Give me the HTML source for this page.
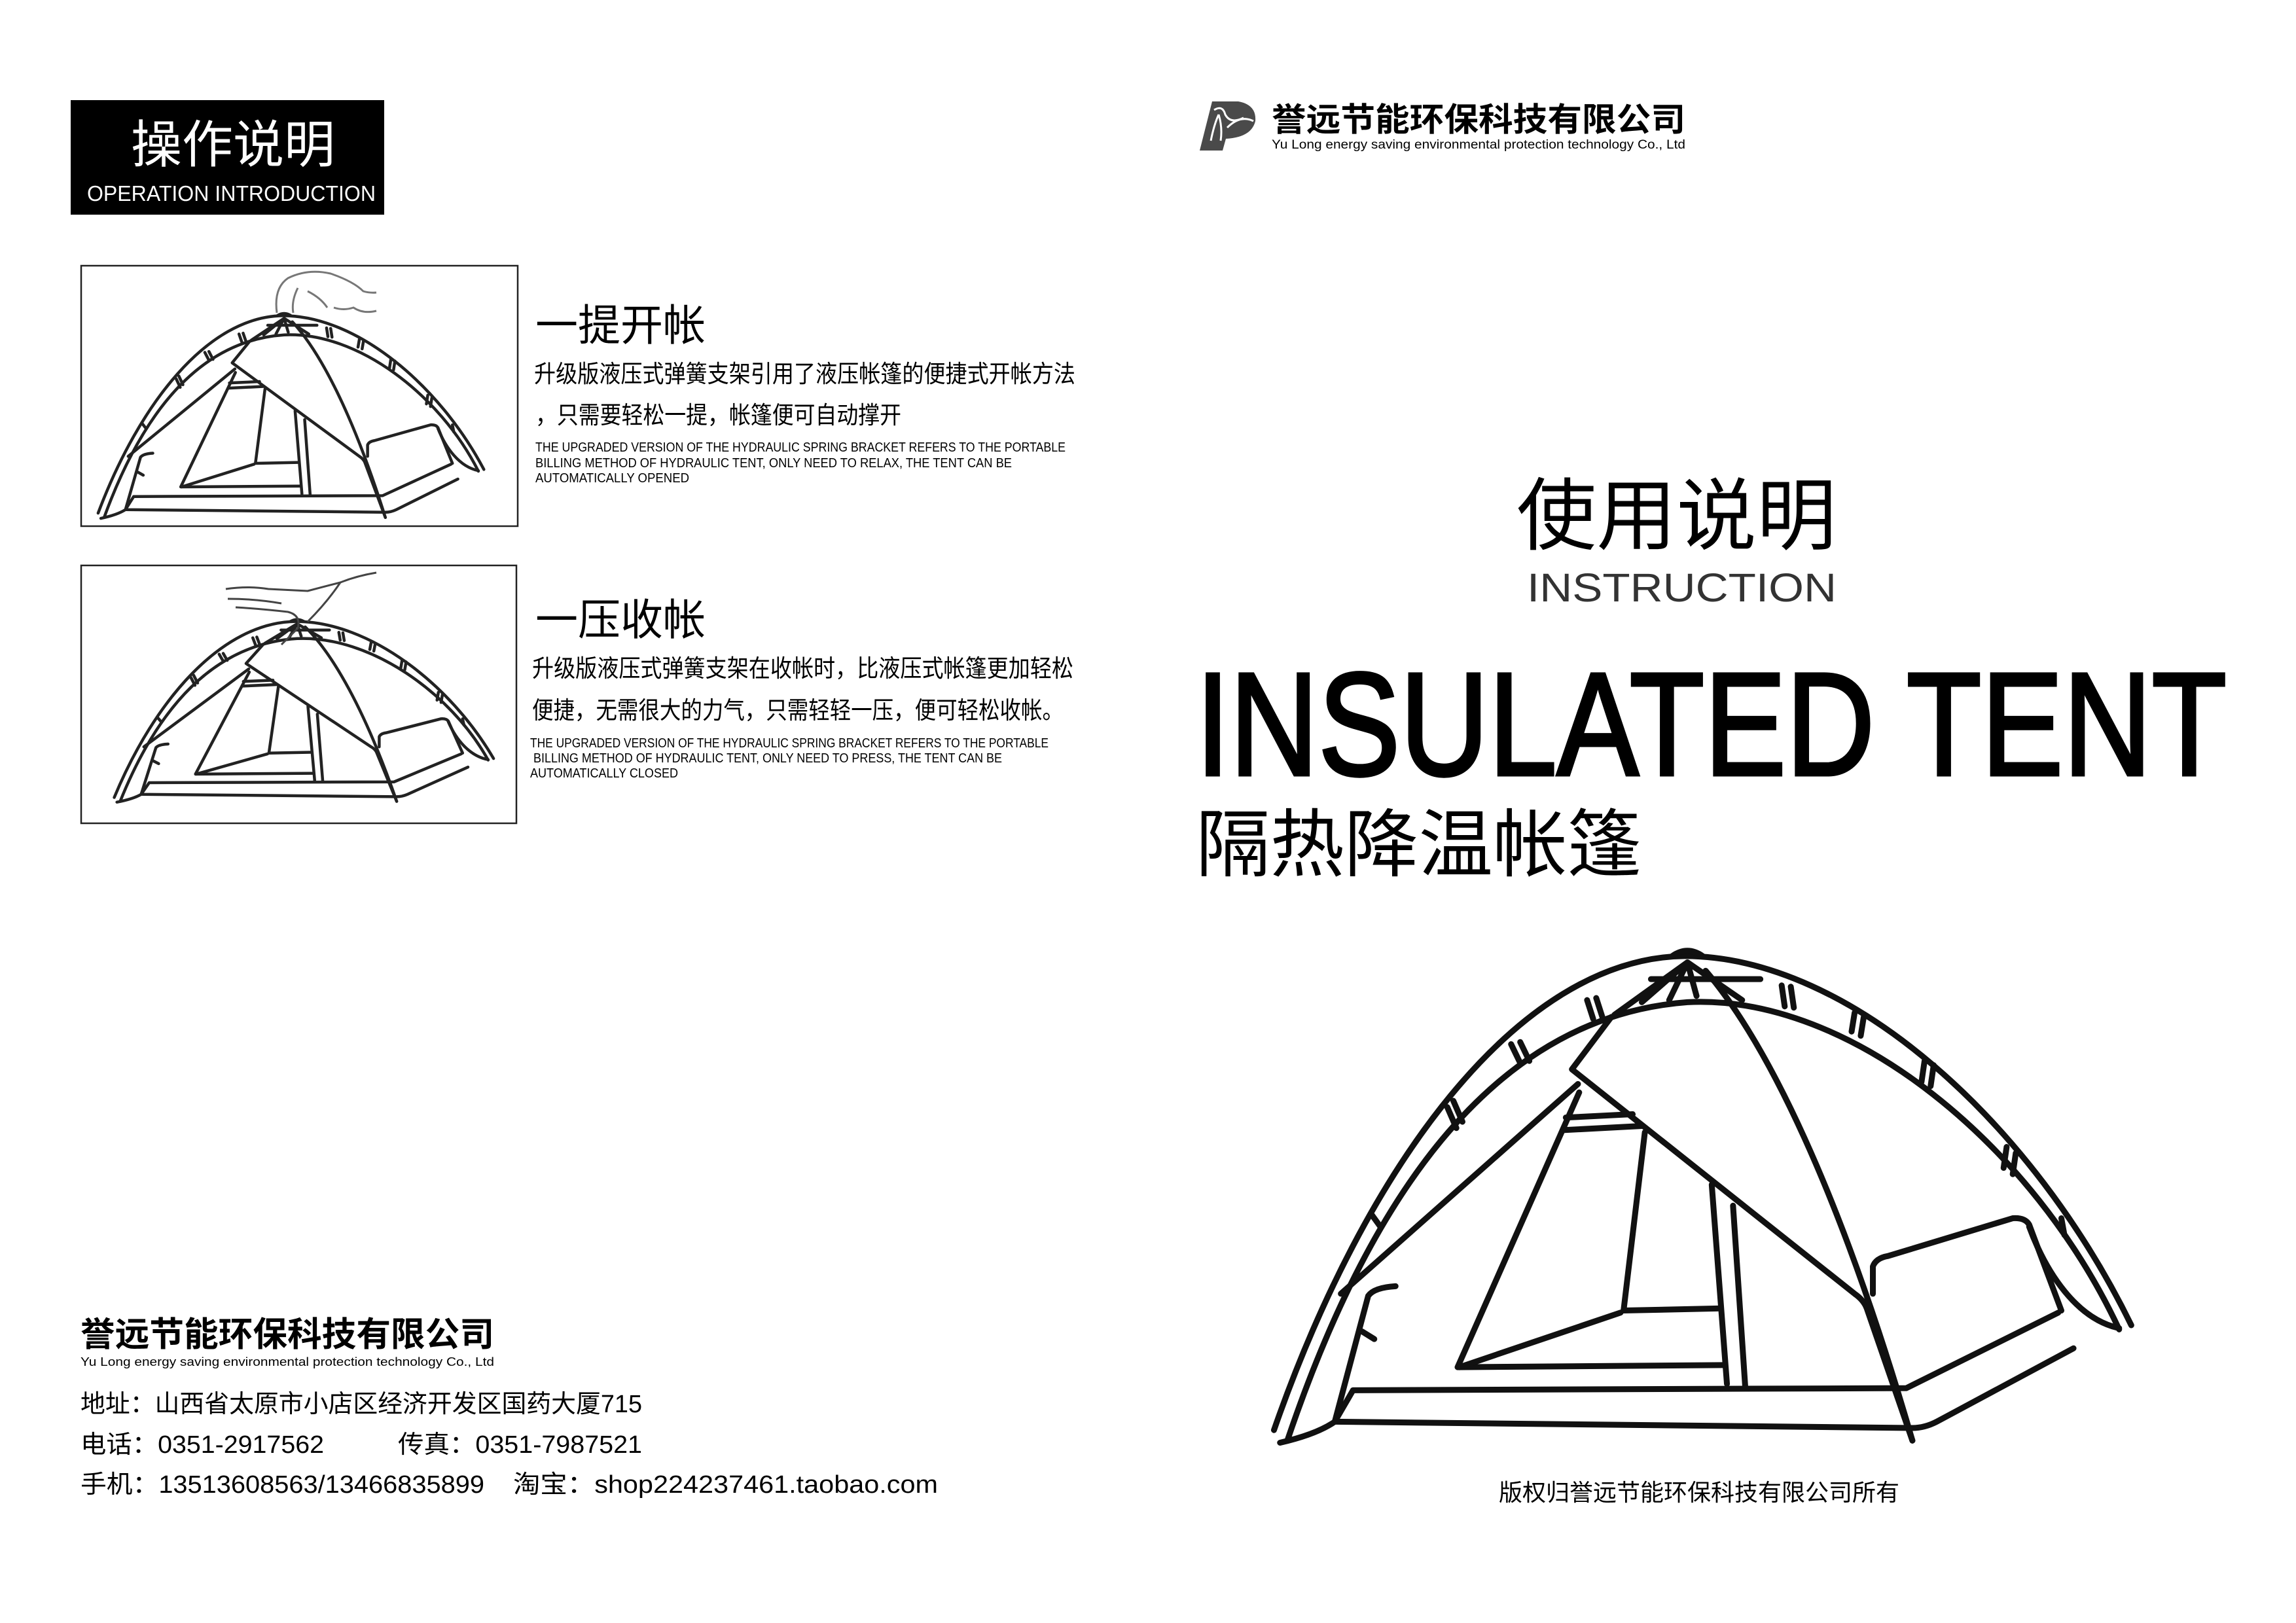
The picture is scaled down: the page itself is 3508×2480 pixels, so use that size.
<!DOCTYPE html>
<html><head><meta charset="utf-8"><style>
html,body{margin:0;padding:0;background:#fff;}
svg{display:block;}
.cn{font-family:"Liberation Sans","Noto Sans CJK SC",sans-serif;}
.t path,.t line,.t polyline{vector-effect:non-scaling-stroke;}
</style></head><body>
<svg width="3508" height="2480" viewBox="0 0 3508 2480" xmlns="http://www.w3.org/2000/svg">
<defs>
<g id="tent" class="t" fill="none" stroke-linecap="round" stroke-linejoin="round">
 <path d="M50,1225 C200,600 450,100 725,95 C1000,95 1300,500 1460,975"/>
 <path d="M72,1250 C200,700 400,240 730,205 C1000,185 1300,550 1440,985"/>
 <path d="M705,95 Q730,70 755,95"/>
 <path d="M730,110 L610,235 M730,110 L655,205 M730,110 L700,200 M730,110 L745,190 M730,110 L820,200 M670,150 L850,150"/>
 <path d="M345,440 L360,490 M335,455 L350,505 M440,305 L455,350 M455,300 L470,345 M565,200 L575,245 M580,195 L590,240 M885,165 L890,215 M900,168 L905,218 M1005,230 L1000,275 M1020,240 L1015,285 M1120,345 L1115,395 M1135,355 L1130,405 M1255,550 L1250,600 M1270,565 L1265,615 M1345,720 L1350,760 M210,710 L225,740"/>
 <path d="M605,240 L540,365 L1005,900 Q1020,915 1025,935 L1100,1250"/>
 <path d="M760,130 C860,300 980,650 1100,1250"/>
 <path d="M550,400 L160,900"/>
 <path d="M552,420 L352,1075 L790,1070"/>
 <path d="M530,480 L640,472 M525,510 L655,500 M660,515 L625,940 L780,935 M620,945 L355,1075"/>
 <path d="M770,640 L795,1115 M805,690 L825,1120"/>
 <path d="M180,1130 L1090,1125 L1340,945 M180,1130 L150,1205 L1100,1220 Q1120,1220 1140,1205 L1365,1030"/>
 <path d="M1035,900 L1035,835 Q1040,815 1060,810 L1265,720 Q1285,718 1292,735 L1345,940"/>
 <path d="M1292,740 C1320,850 1370,960 1440,982"/>
 <path d="M60,1255 Q120,1235 150,1205 L205,905 Q215,885 250,882 M195,990 L215,1008"/>
</g>
</defs>

<rect x="108" y="153" width="479" height="175" fill="#000"/>
<text class="cn" x="200" y="248" font-size="78" fill="#fff" textLength="312" lengthAdjust="spacingAndGlyphs">操作说明</text>
<text x="133" y="307" font-family="Liberation Sans, sans-serif" font-size="33" fill="#fff" textLength="441" lengthAdjust="spacingAndGlyphs">OPERATION INTRODUCTION</text>

<rect x="124" y="406" width="667" height="398" fill="none" stroke="#222" stroke-width="2.5"/>
<rect x="124" y="864" width="665" height="394" fill="none" stroke="#222" stroke-width="2.5"/>
<use href="#tent" transform="translate(129,457) scale(0.418,0.267)" stroke="#222" stroke-width="4.5"/>
<use href="#tent" transform="translate(154,927) scale(0.411,0.238)" stroke="#222" stroke-width="4.5"/>
<path d="M423,478 Q418,440 440,425 Q470,410 505,418 Q540,430 555,445 Q565,448 575,447 M455,440 Q445,460 448,478 M470,445 Q490,455 500,470 M510,470 Q525,475 540,470 Q555,480 575,475" fill="none" stroke="#777" stroke-width="3"/>
<path d="M345,900 Q380,895 410,900 L470,903 Q500,895 520,890 Q545,880 575,875 M348,915 Q390,915 430,922 M360,928 Q395,930 440,935 Q460,940 455,960 Q440,975 430,985 M520,890 Q500,920 470,950" fill="none" stroke="#444" stroke-width="3"/>

<text class="cn" x="818" y="520" font-size="66" fill="#000" textLength="260" lengthAdjust="spacingAndGlyphs">一提开帐</text>
<text class="cn" x="816" y="584" font-size="37" fill="#000" textLength="827" lengthAdjust="spacingAndGlyphs">升级版液压式弹簧支架引用了液压帐篷的便捷式开帐方法</text>
<text class="cn" x="818" y="647" font-size="37" fill="#000" textLength="559" lengthAdjust="spacingAndGlyphs">，只需要轻松一提，帐篷便可自动撑开</text>
<g font-family="Liberation Sans, sans-serif" font-size="20" fill="#000">
<text x="818" y="690" textLength="810" lengthAdjust="spacingAndGlyphs">THE UPGRADED VERSION OF THE HYDRAULIC SPRING BRACKET REFERS TO THE PORTABLE</text>
<text x="818" y="714" textLength="728" lengthAdjust="spacingAndGlyphs">BILLING METHOD OF HYDRAULIC TENT, ONLY NEED TO RELAX, THE TENT CAN BE</text>
<text x="818" y="737" textLength="235" lengthAdjust="spacingAndGlyphs">AUTOMATICALLY OPENED</text>
</g>

<text class="cn" x="818" y="970" font-size="66" fill="#000" textLength="260" lengthAdjust="spacingAndGlyphs">一压收帐</text>
<text class="cn" x="813" y="1034" font-size="37" fill="#000" textLength="827" lengthAdjust="spacingAndGlyphs">升级版液压式弹簧支架在收帐时，比液压式帐篷更加轻松</text>
<text class="cn" x="813" y="1098" font-size="37" fill="#000" textLength="812" lengthAdjust="spacingAndGlyphs">便捷，无需很大的力气，只需轻轻一压，便可轻松收帐。</text>
<g font-family="Liberation Sans, sans-serif" font-size="20" fill="#000">
<text x="810" y="1142" textLength="792" lengthAdjust="spacingAndGlyphs">THE UPGRADED VERSION OF THE HYDRAULIC SPRING BRACKET REFERS TO THE PORTABLE</text>
<text x="815" y="1165" textLength="716" lengthAdjust="spacingAndGlyphs">BILLING METHOD OF HYDRAULIC TENT, ONLY NEED TO PRESS, THE TENT CAN  BE</text>
<text x="810" y="1188" textLength="226" lengthAdjust="spacingAndGlyphs">AUTOMATICALLY CLOSED</text>
</g>

<text class="cn" x="123" y="2057" font-size="52" font-weight="bold" fill="#000" textLength="632" lengthAdjust="spacingAndGlyphs">誉远节能环保科技有限公司</text>
<text x="123" y="2087" font-family="Liberation Sans, sans-serif" font-size="18" fill="#000" textLength="632" lengthAdjust="spacingAndGlyphs">Yu Long energy saving environmental protection technology Co., Ltd</text>
<g class="cn" font-size="38" fill="#000">
<text x="123" y="2158" textLength="858" lengthAdjust="spacingAndGlyphs">地址：山西省太原市小店区经济开发区国药大厦715</text>
<text x="123" y="2220" textLength="372" lengthAdjust="spacingAndGlyphs">电话：0351-2917562</text>
<text x="608" y="2220" textLength="373" lengthAdjust="spacingAndGlyphs">传真：0351-7987521</text>
<text x="123" y="2281" textLength="617" lengthAdjust="spacingAndGlyphs">手机：13513608563/13466835899</text>
<text x="784" y="2281" textLength="649" lengthAdjust="spacingAndGlyphs">淘宝：shop224237461.taobao.com</text>
</g>

<path d="M1833,230 L1852,155 L1892,155 Q1920,160 1918,185 Q1912,210 1873,212 L1868,230 Z" fill="#4a4a4a"/>
<path d="M1850,215 Q1855,190 1862,175 M1862,175 Q1868,195 1865,215 M1855,168 Q1868,160 1872,175 Q1880,190 1900,180 M1875,195 Q1895,175 1915,185" fill="none" stroke="#fff" stroke-width="3"/>
<text class="cn" x="1943" y="200" font-size="50" font-weight="bold" fill="#000" textLength="632" lengthAdjust="spacingAndGlyphs">誉远节能环保科技有限公司</text>
<text x="1943" y="227" font-family="Liberation Sans, sans-serif" font-size="19" fill="#000" textLength="632" lengthAdjust="spacingAndGlyphs">Yu Long energy saving environmental protection technology Co., Ltd</text>

<text class="cn" x="2317" y="830" font-size="120" fill="#000" textLength="489" lengthAdjust="spacingAndGlyphs">使用说明</text>
<text x="2333" y="919" font-family="Liberation Sans, sans-serif" font-size="61" fill="#333" textLength="473" lengthAdjust="spacingAndGlyphs">INSTRUCTION</text>
<text x="1827" y="1184" font-family="Liberation Sans, sans-serif" font-size="224" fill="#000" stroke="#000" stroke-width="5" textLength="1575" lengthAdjust="spacingAndGlyphs">INSULATED TENT</text>
<text class="cn" x="1827" y="1330" font-size="113" fill="#000" textLength="681" lengthAdjust="spacingAndGlyphs">隔热降温帐篷</text>

<use href="#tent" transform="translate(1900,1400) scale(0.929,0.641)" stroke="#111" stroke-width="9"/>

<text class="cn" x="2290" y="2293" font-size="36" fill="#000" textLength="612" lengthAdjust="spacingAndGlyphs">版权归誉远节能环保科技有限公司所有</text>
</svg>
</body></html>
